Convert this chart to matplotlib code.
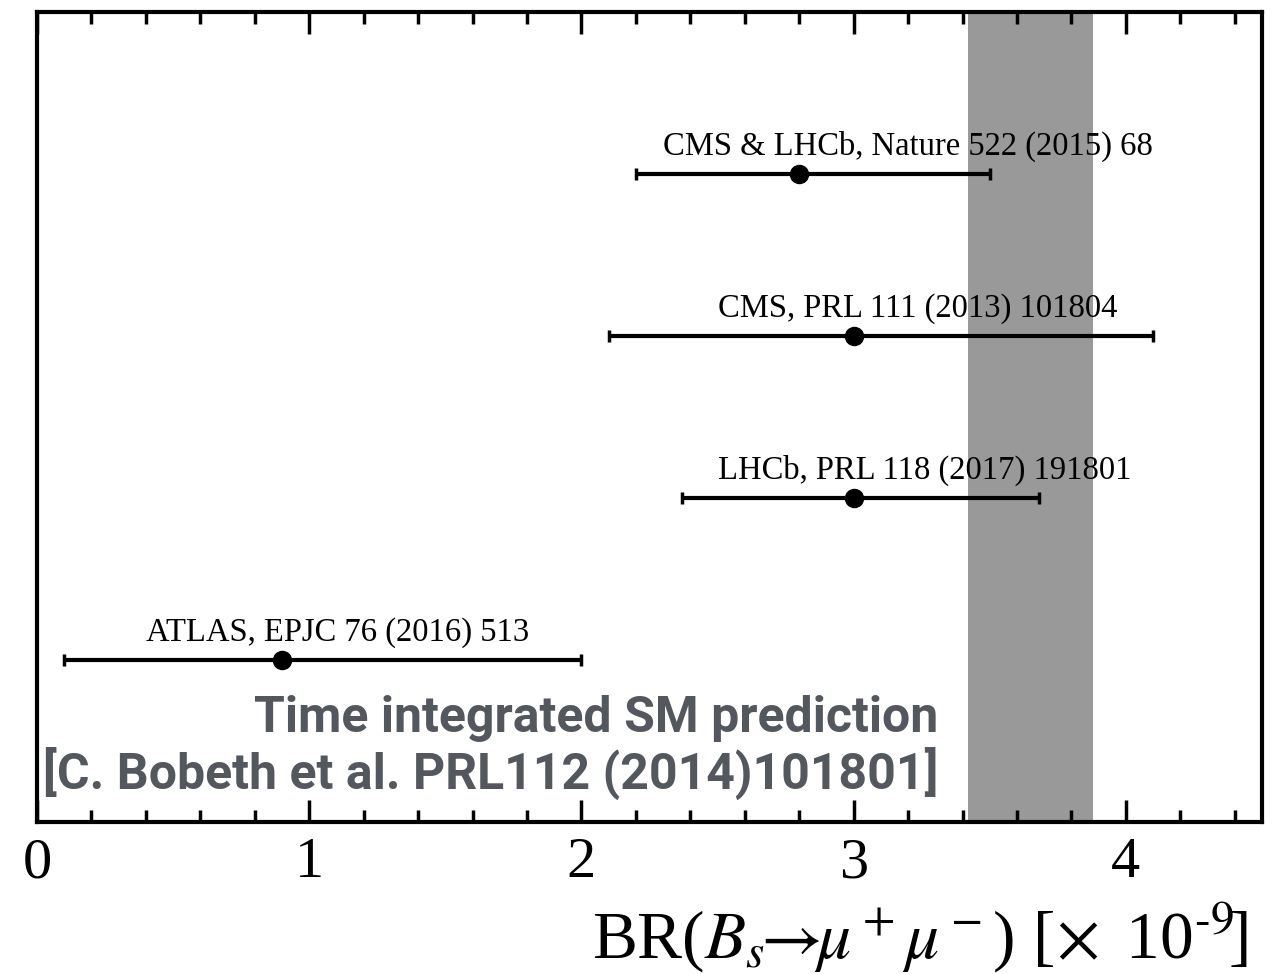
import matplotlib
matplotlib.use("Agg")
import matplotlib.pyplot as plt
from matplotlib.ticker import MultipleLocator

plt.rcParams['font.family'] = ['Liberation Serif', 'DejaVu Serif']
plt.rcParams['mathtext.fontset'] = 'stix'

# Measurements of BR(Bs -> mu+ mu-) in units of 1e-9
labels = ["CMS & LHCb, Nature 522 (2015) 68",
          "CMS, PRL 111 (2013) 101804",
          "LHCb, PRL 118 (2017) 191801",
          "ATLAS, EPJC 76 (2016) 513"]
values = [2.8, 3.0, 3.0, 0.9]
err_lo = [0.6, 0.9, 0.63, 0.8]
err_hi = [0.7, 1.1, 0.68, 1.1]
rows = [4, 3, 2, 1]
label_x = [2.30, 2.50, 2.50, 0.40]

# Standard Model prediction band
sm_low, sm_high = 3.42, 3.88
sm_text = ["Time integrated SM prediction",
           "[C. Bobeth et al. PRL112 (2014)101801]"]

fig = plt.figure(figsize=(12.87, 9.74), dpi=100)
ax = fig.add_axes([37/1287, 1 - 822/974, (1262-37)/1287, (822-12)/974])

ax.axvspan(sm_low, sm_high, color='#999999', lw=0, zorder=0)

ax.errorbar(values, rows, xerr=[err_lo, err_hi], fmt='o', color='black',
            ms=13, elinewidth=3, capsize=4, capthick=2.5, zorder=3)

for lx, y, txt in zip(label_x, rows, labels):
    ax.text(lx, y + 0.12, txt, fontsize=23.5, va='baseline', ha='left', zorder=4)

sans = ['Roboto', 'Liberation Sans', 'DejaVu Sans']
ax.text(3.31, 0.556, sm_text[0], family=sans, fontweight='bold',
        fontsize=36, color='#53575e', ha='right', va='baseline')
ax.text(3.31, 0.204, sm_text[1], family=sans, fontweight='bold',
        fontsize=36, color='#53575e', ha='right', va='baseline')

ax.set_xlim(0, 4.5)
ax.set_ylim(0, 5)
ax.set_yticks([])
ax.xaxis.set_major_locator(MultipleLocator(1))
ax.xaxis.set_minor_locator(MultipleLocator(0.2))
ax.tick_params(axis='x', which='both', direction='in', top=True, bottom=True,
               width=2.5, labelsize=42, pad=11)
ax.tick_params(axis='x', which='major', length=16)
ax.tick_params(axis='x', which='minor', length=8.5)
for s in ax.spines.values():
    s.set_linewidth(3)

fig.text(1248/1287, 16/974,
         r'BR($B_s\!\!\rightarrow\!\!\mu^+\mu^-$) [$\!\times$ 10$^{\text{-9}}\!$]',
         fontsize=48.5, ha='right', va='baseline')

fig.savefig('out.png', dpi=100)
